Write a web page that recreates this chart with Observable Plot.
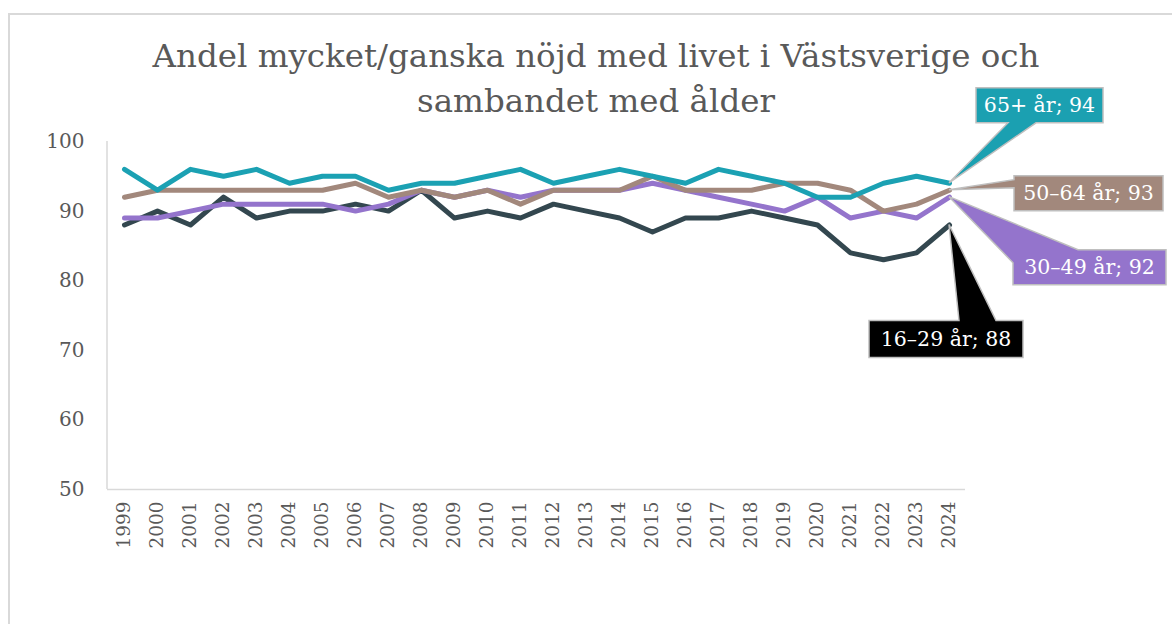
<!DOCTYPE html>
<html>
<head>
<meta charset="utf-8">
<script src="https://cdn.jsdelivr.net/npm/d3@7"></script>
<script src="https://cdn.jsdelivr.net/npm/@observablehq/plot@0.6"></script>
<style>
  html, body { margin: 0; padding: 0; background: #fff; }
  #wrap { position: relative; width: 1172px; height: 624px; overflow: hidden; }
  #frame { position: absolute; left: 8px; top: 13px; width: 1200px; height: 700px;
           border-left: 2px solid #d9d9d9; border-top: 2px solid #d9d9d9; box-sizing: border-box; }
  #title { position: absolute; left: 0; width: 1192px; top: 34px; text-align: center;
           font-family: "DejaVu Serif", serif; font-size: 32.5px; line-height: 45px; color: #595959; }
  #chart { position: absolute; left: 0; top: 0; }
</style>
</head>
<body>
<div id="wrap">
  <div id="frame"></div>
  <div id="chart"></div>
  <div id="title">Andel mycket/ganska nöjd med livet i Västsverige och<br>sambandet med ålder</div>
</div>
<script>
const years = [1999,2000,2001,2002,2003,2004,2005,2006,2007,2008,2009,2010,2011,2012,2013,2014,2015,2016,2017,2018,2019,2020,2021,2022,2023,2024];
const seriesNames = ["16–29 år", "30–49 år", "50–64 år", "65+ år"];
const age16_29 = [88,90,88,92,89,90,90,91,90,93,89,90,89,91,90,89,87,89,89,90,89,88,84,83,84,88];
const age30_49 = [89,89,90,91,91,91,91,90,91,93,92,93,92,93,93,93,94,93,92,91,90,92,89,90,89,92];
const age50_64 = [92,93,93,93,93,93,93,94,92,93,92,93,91,93,93,93,95,93,93,93,94,94,93,90,91,93];
const age65 = [96,93,96,95,96,94,95,95,93,94,94,95,96,94,95,96,95,94,96,95,94,92,92,94,95,94];
const yTicks = [50,60,70,80,90,100];
const colors = ["#33474f", "#9474cc", "#a2887c", "#1ba1b3"];
const boxColors = ["#000000", "#9474cc", "#a2887c", "#1ba0b1"];

const allSeries = [age16_29, age30_49, age50_64, age65];
const rows = [];
allSeries.forEach((vals, s) => vals.forEach((v, i) => rows.push({series: seriesNames[s], year: years[i], value: v})));

// callout shapes relative to the anchor point (last data point): polygon + box
const callouts = [
  {box: [-80, 74, 96, 133], poly: [[-80,96],[10,96],[0,0],[47,96],[74,96],[74,133],[-80,133]]},
  {box: [64, 217, 53, 88], poly: [[0,0],[129,53],[217,53],[217,88],[64,88],[64,66]]},
  {box: [65, 214, -14, 21], poly: [[65,-14],[214,-14],[214,21],[65,21],[65,-2],[0,0],[65,-10]]},
  {box: [27, 154, -95, -60], poly: [[27,-95],[154,-95],[154,-60],[87,-60],[0,0],[59,-60],[27,-60]]}
];

function calloutMark(index, scales, values, dimensions) {
  const g = d3.create("svg:g");
  g.append("line")
    .attr("x1", dimensions.marginLeft).attr("x2", dimensions.marginLeft)
    .attr("y1", dimensions.marginTop).attr("y2", dimensions.height - dimensions.marginBottom)
    .attr("stroke", "#d9d9d9").attr("stroke-width", 1.5);
  const last = years.length - 1;
  allSeries.forEach((vals, s) => {
    const ax = scales.x(years[last]);
    const ay = scales.y(vals[last]);
    const c = callouts[s];
    g.append("polygon")
      .attr("points", c.poly.map(p => [ax + p[0], ay + p[1]].join(",")).join(" "))
      .attr("fill", boxColors[s]).attr("stroke", "#bfbfbf").attr("stroke-width", 1.5)
      .attr("stroke-linejoin", "miter");
    g.append("text")
      .attr("x", ax + (c.box[0] + c.box[1]) / 2)
      .attr("y", ay + (c.box[2] + c.box[3]) / 2)
      .attr("text-anchor", "middle").attr("dy", "0.35em")
      .attr("fill", "#fff").attr("font-size", 20.5)
      .attr("font-family", "DejaVu Serif, serif")
      .text(`${seriesNames[s]}; ${vals[last]}`);
  });
  return g.node();
}

const chart = Plot.plot({
  width: 1172,
  height: 624,
  marginLeft: 107,
  marginRight: 207,
  marginTop: 141,
  marginBottom: 135,
  style: {fontFamily: "DejaVu Serif, serif", fontSize: "19px", color: "#595959", background: "transparent", overflow: "visible"},
  x: {type: "point", domain: years, padding: 0.5},
  y: {domain: [50, 100]},
  color: {domain: seriesNames, range: colors},
  marks: [
    Plot.ruleY([50], {stroke: "#d9d9d9", strokeWidth: 1.5}),
    Plot.axisY({ticks: yTicks, tickSize: 0, tickPadding: 23, label: null, fontSize: 20}),
    Plot.axisX({tickRotate: -90, tickSize: 0, tickPadding: 12, label: null, fontSize: 18.5, tickFormat: d => String(d)}),
    Plot.line(rows, {x: "year", y: "value", z: "series", stroke: "series", strokeWidth: 5, strokeLinejoin: "round", strokeLinecap: "round"}),
    calloutMark
  ]
});
document.getElementById("chart").appendChild(chart);
</script>
</body>
</html>
